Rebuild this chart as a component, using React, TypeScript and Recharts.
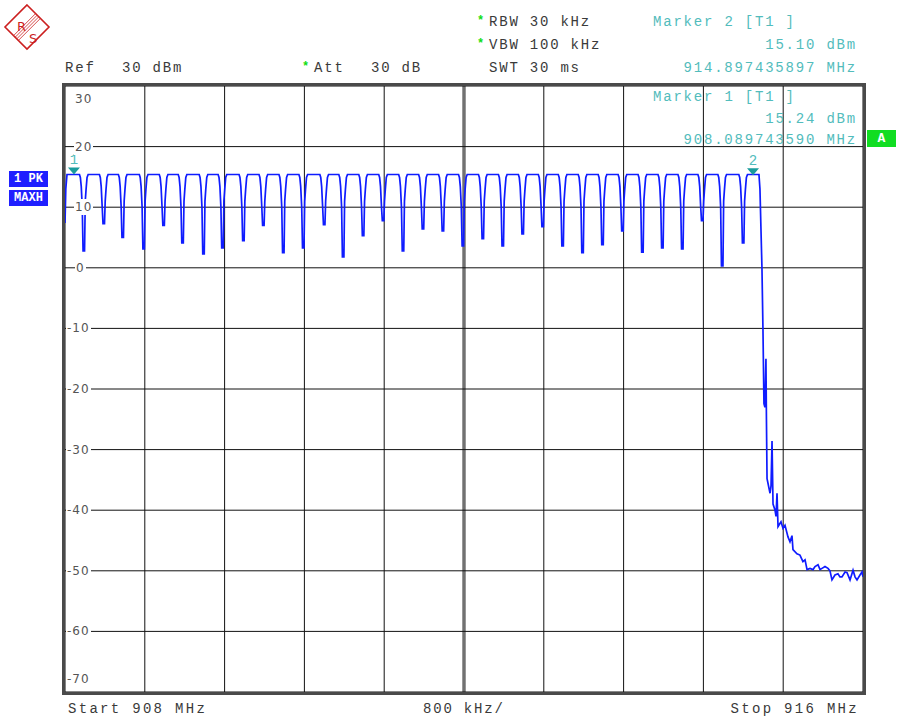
import React from "react";
import { ComposedChart, Line, XAxis, YAxis, ReferenceLine, ReferenceDot } from "recharts";

// grid: 10 divisions of 800 kHz, 10 dB/div
const X_TICKS = [908, 908.8, 909.6, 910.4, 911.2, 912, 912.8, 913.6, 914.4, 915.2, 916];
const Y_TICKS = [30, 20, 10, 0, -10, -20, -30, -40, -50, -60, -70];

// burst plateau level and the dips between the 200 kHz channels
const TOP_LEVEL = 15.4;
const DIP_FREQS = [
  908.19, 908.39, 908.58, 908.79, 908.99, 909.18, 909.39, 909.58, 909.79, 909.99,
  910.19, 910.39, 910.6, 910.79, 910.99, 911.19, 911.39, 911.59, 911.79, 911.99,
  912.19, 912.39, 912.59, 912.79, 912.99, 913.19, 913.39, 913.59, 913.79, 913.99,
  914.19, 914.39, 914.59, 914.8,
];
const DIP_LEVELS = [
  2.8, 7.3, 5.0, 3.1, 7.0, 4.1, 2.3, 3.3, 4.5, 7.0,
  2.5, 3.3, 7.1, 1.8, 5.3, 7.8, 2.8, 6.4, 6.1, 3.6,
  4.8, 3.6, 5.6, 6.8, 3.6, 2.5, 3.8, 6.1, 2.6, 3.3,
  3.1, 7.8, 0.3, 4.1,
];

// start of sweep
const HEAD_FREQS = [908.0, 908.008, 908.02];
const HEAD_LEVELS = [7.4, 13.0, 15.4];

// roll-off above the band edge
const TAIL_FREQS = [
  914.957, 914.967, 914.987, 914.997, 915.007, 915.017, 915.027, 915.032, 915.038, 915.068,
  915.078, 915.088, 915.098, 915.118, 915.128, 915.138, 915.148, 915.178, 915.198, 915.218,
  915.248, 915.268, 915.288, 915.298, 915.338, 915.368, 915.398, 915.419, 915.439, 915.469,
  915.499, 915.519, 915.549, 915.569, 915.589, 915.619, 915.649, 915.669, 915.689, 915.719,
  915.749, 915.769, 915.789, 915.82, 915.84, 915.87, 915.9, 915.92, 915.94, 915.97,
  915.99, 916.0,
];
const TAIL_LEVELS = [
  15.4, 13.0, 0.0, -10.0, -22.4, -23.0, -15.0, -25.0, -34.8, -37.2,
  -36.0, -28.6, -39.0, -40.0, -41.0, -37.2, -42.7, -41.9, -43.0, -42.5,
  -44.4, -45.2, -44.2, -46.5, -47.2, -47.4, -48.5, -48.2, -49.8, -49.6,
  -49.8, -49.3, -49.0, -49.8, -49.6, -49.3, -49.6, -50.0, -51.5, -50.7,
  -50.5, -51.0, -51.0, -50.2, -50.3, -51.5, -49.9, -51.0, -51.5, -50.7,
  -50.2, -51.0,
];

const MARKERS = [
  { id: "1", f: 908.08974359, v: 15.24 },
  { id: "2", f: 914.897435897, v: 15.1 },
];

// shape of one dip (offset in MHz, level or null = dip bottom)
const DIP_SHAPE: [number, number | null][] = [
  [-0.045, TOP_LEVEL],
  [-0.036, 14.9],
  [-0.027, 13.4],
  [-0.017, 10.0],
  [-0.009, null],
  [0.006, null],
  [0.013, 11.0],
  [0.021, 12.9],
  [0.031, 14.9],
  [0.042, TOP_LEVEL],
];

const trace: { f: number; v: number }[] = [];
HEAD_FREQS.forEach((f, i) => trace.push({ f, v: HEAD_LEVELS[i] }));
DIP_FREQS.forEach((fc, i) => {
  const d = DIP_LEVELS[i];
  DIP_SHAPE.forEach(([dx, lv]) => {
    trace.push({ f: fc + dx, v: lv === null ? d : Math.max(lv, d + 0.4) });
  });
});
TAIL_FREQS.forEach((f, i) => trace.push({ f, v: TAIL_LEVELS[i] }));

const W = 905;
const H = 717;
const PLOT = { left: 65, right: 863, top: 86, bottom: 692 };
const yPix = (v: number) => PLOT.top + ((30 - v) / 100) * (PLOT.bottom - PLOT.top);

const MONO = "'Liberation Mono', 'Courier New', monospace";
const TEAL = "#52bcbc";
const HDR = "#3a3a3a";

const txt = (extra: React.CSSProperties): React.CSSProperties => ({
  position: "absolute",
  fontFamily: MONO,
  fontSize: 14,
  letterSpacing: 1.8,
  lineHeight: "16px",
  whiteSpace: "pre",
  color: HDR,
  ...extra,
});

const Star = ({ x, y }: { x: number; y: number }) => (
  <div style={txt({ left: x, top: y - 9, color: "#11dd11", fontSize: 12, fontWeight: "bold" })}>*</div>
);

const MarkerShape = (props: any) => {
  const { cx, cy, id } = props;
  return (
    <g>
      <polygon points={`${cx - 6},${cy - 8} ${cx + 6},${cy - 8} ${cx},${cy - 1}`} fill="#1a9c9c" />
      <text x={cx} y={cy - 11} textAnchor="middle" fill={TEAL} fontFamily={MONO} fontSize={14}>
        {id}
      </text>
    </g>
  );
};

function Logo() {
  return (
    <svg width={56} height={56} style={{ position: "absolute", left: 0, top: 0 }}>
      <polygon points="27,5 49,27 27,49 5,27" fill="none" stroke="#cc1f1f" strokeWidth={1.6} />
      {[-2.4, -0.8, 0.8, 2.4].map((o) => (
        <line key={o} x1={16 + o} y1={38 + o} x2={38 + o} y2={16 + o} stroke="#cc1f1f" strokeWidth={0.8} />
      ))}
      <text x={17} y={31} fill="#cc1f1f" fontFamily="'DejaVu Sans', sans-serif" fontSize={13}>R</text>
      <text x={29} y={43} fill="#cc1f1f" fontFamily="'DejaVu Sans', sans-serif" fontSize={13}>S</text>
    </svg>
  );
}

export default function App() {
  return (
    <div style={{ position: "absolute", left: 0, top: 0, width: W, height: H, background: "#fff", overflow: "hidden" }}>
      <Logo />

      <Star x={477} y={22} />
      <div style={txt({ left: 489, top: 14 })}>RBW 30 kHz</div>
      <Star x={477} y={45} />
      <div style={txt({ left: 489, top: 37 })}>VBW 100 kHz</div>
      <div style={txt({ left: 489, top: 60 })}>SWT 30 ms</div>
      <div style={txt({ left: 65, top: 60 })}>Ref</div>
      <div style={txt({ left: 122, top: 60 })}>30 dBm</div>
      <Star x={302} y={68} />
      <div style={txt({ left: 314, top: 60 })}>Att</div>
      <div style={txt({ left: 371, top: 60 })}>30 dB</div>

      <ComposedChart
        width={W}
        height={H}
        data={trace}
        margin={{ left: PLOT.left, right: W - PLOT.right, top: PLOT.top, bottom: H - PLOT.bottom }}
        style={{ position: "absolute", left: 0, top: 0 }}
      >
        <XAxis type="number" dataKey="f" domain={[908, 916]} allowDataOverflow hide />
        <YAxis type="number" domain={[-70, 30]} allowDataOverflow hide />
        {X_TICKS.map((t) => (
          <ReferenceLine key={`x${t}`} x={t} stroke={t === 912 ? "#333" : "#111"} strokeWidth={t === 912 ? 3 : 1} ifOverflow="extendDomain" />
        ))}
        <ReferenceLine x={912} stroke="#b0b0b0" strokeWidth={1} />
        {Y_TICKS.map((t) => (
          <ReferenceLine key={`y${t}`} y={t} stroke="#111" strokeWidth={1} ifOverflow="extendDomain" />
        ))}
        <Line
          type="linear"
          dataKey="v"
          stroke="#0f1cff"
          strokeWidth={1.7}
          dot={false}
          isAnimationActive={false}
        />
        {MARKERS.map((m) => (
          <ReferenceDot key={m.id} x={m.f} y={m.v} shape={(p: any) => <MarkerShape {...p} id={m.id} />} />
        ))}
      </ComposedChart>

      {/* frame */}
      <div
        style={{
          position: "absolute",
          left: 62,
          top: 83,
          width: 866 - 62,
          height: 695 - 83,
          boxSizing: "border-box",
          border: "3px solid #4a4a4a",
          pointerEvents: "none",
        }}
      />

      {Y_TICKS.map((t) => {
        const label = String(t);
        let cy = yPix(t);
        if (t === 30) cy = 99;
        if (t === -70) cy = 679;
        const left = t < 0 ? 66 : t === 0 ? 75 : 74;
        return (
          <div
            key={t}
            style={{
              position: "absolute",
              left,
              top: cy - 8,
              lineHeight: "16px",
              fontFamily: "'DejaVu Sans', sans-serif",
              fontSize: 12,
              letterSpacing: 1,
              color: "#555",
              background: "#fff",
              padding: "0 1px",
            }}
          >
            {label}
          </div>
        );
      })}

      <div style={txt({ left: 653, top: 14, color: TEAL })}>Marker 2 [T1 ]</div>
      <div style={txt({ right: 48, top: 37, color: TEAL })}>15.10 dBm</div>
      <div style={txt({ right: 48, top: 60, color: TEAL })}>914.897435897 MHz</div>
      <div style={txt({ left: 653, top: 89, color: TEAL })}>Marker 1 [T1 ]</div>
      <div style={txt({ right: 48, top: 111, color: TEAL })}>15.24 dBm</div>
      <div style={txt({ right: 48, top: 132, color: TEAL })}>908.089743590 MHz</div>

      <div
        style={{
          position: "absolute",
          left: 867,
          top: 130,
          width: 29,
          height: 17,
          background: "#11dd22",
          color: "#fff",
          fontFamily: MONO,
          fontWeight: "bold",
          fontSize: 13,
          lineHeight: "17px",
          textAlign: "center",
        }}
      >
        A
      </div>
      {[
        { label: "1 PK", top: 171 },
        { label: "MAXH", top: 190 },
      ].map((b) => (
        <div
          key={b.label}
          style={{
            position: "absolute",
            left: 9,
            top: b.top,
            width: 39,
            height: 16,
            background: "#1f1fff",
            color: "#fff",
            fontFamily: MONO,
            fontWeight: "bold",
            fontSize: 12,
            lineHeight: "16px",
            textAlign: "center",
            whiteSpace: "pre",
          }}
        >
          {b.label}
        </div>
      ))}

      <div style={txt({ left: 68, top: 701, letterSpacing: 2.3 })}>Start 908 MHz</div>
      <div style={txt({ left: 423, top: 701 })}>800 kHz/</div>
      <div style={txt({ right: 46, top: 701, letterSpacing: 2.3 })}>Stop 916 MHz</div>
    </div>
  );
}
